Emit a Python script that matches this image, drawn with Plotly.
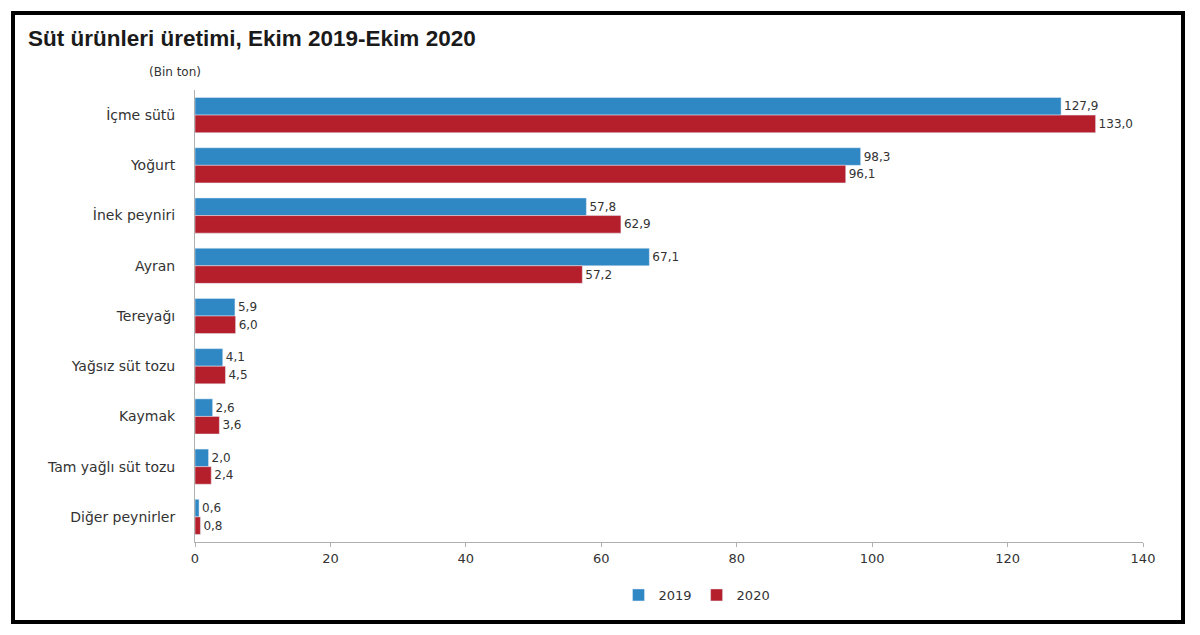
import plotly.graph_objects as go

categories = ["İçme sütü", "Yoğurt", "İnek peyniri", "Ayran", "Tereyağı",
              "Yağsız süt tozu", "Kaymak", "Tam yağlı süt tozu", "Diğer peynirler"]
values_2019 = [127.9, 98.3, 57.8, 67.1, 5.9, 4.1, 2.6, 2.0, 0.6]
values_2020 = [133.0, 96.1, 62.9, 57.2, 6.0, 4.5, 3.6, 2.4, 0.8]
x_ticks = [0, 20, 40, 60, 80, 100, 120, 140]

FONT = "DejaVu Sans, Liberation Sans, sans-serif"
TFONT = "Liberation Sans, Arial, sans-serif"
BLUE = "#2f87c4"
RED = "#b51f2b"

fig = go.Figure()
fig.add_trace(go.Bar(
    y=categories, x=values_2019, name="2019", orientation="h",
    marker=dict(color=BLUE), texttemplate="%{x:.1f}", textposition="outside",
    textfont=dict(size=12, color="#333333", family=FONT), cliponaxis=False,
))
fig.add_trace(go.Bar(
    y=categories, x=values_2020, name="2020", orientation="h",
    marker=dict(color=RED), texttemplate="%{x:.1f}", textposition="outside",
    textfont=dict(size=12, color="#333333", family=FONT), cliponaxis=False,
))

L, R, T, B = 195, 57, 90, 93
W, H = 1200, 635
pw, ph = W - L - R, H - T - B

def px_x(p):
    return (p - L) / pw

def px_y(p):
    return (H - B - p) / ph

fig.update_layout(
    width=W, height=H,
    margin=dict(l=L, r=R, t=T, b=B),
    paper_bgcolor="white", plot_bgcolor="white",
    barmode="group", bargap=0.3, bargroupgap=0,
    separators=",.",
    font=dict(family=FONT, size=13, color="#333333"),
    title=dict(text="<b>Süt ürünleri üretimi, Ekim 2019-Ekim 2020</b>",
               x=28 / W, xanchor="left", y=1 - 38 / H, yanchor="middle",
               xref="container", yref="container",
               font=dict(size=22.5, color="#1a1a1a", family=TFONT)),
    xaxis=dict(range=[0, 140], tickvals=x_ticks, showgrid=False, zeroline=False,
               showline=True, linecolor="#b0b0b0", linewidth=1,
               ticks="outside", ticklen=4, tickcolor="#b0b0b0",
               tickfont=dict(size=13, color="#333333")),
    yaxis=dict(autorange="reversed", showgrid=False, showline=True,
               linecolor="#b0b0b0", linewidth=1, ticks="", ticklabelstandoff=16,
               tickfont=dict(size=14, color="#333333")),
    legend=dict(orientation="h", x=px_x(697), xanchor="center",
                y=px_y(595), yanchor="middle",
                font=dict(size=13, color="#333333"), itemwidth=30),
    showlegend=True,
)

fig.add_annotation(text="(Bin ton)", xref="paper", yref="paper",
                   x=px_x(175), y=px_y(72), showarrow=False,
                   xanchor="center", yanchor="middle",
                   font=dict(size=12, color="#333333", family=FONT))

fig.add_shape(type="rect", xref="paper", yref="paper",
              x0=px_x(13), x1=px_x(1183), y0=px_y(13), y1=px_y(622),
              line=dict(color="black", width=4), fillcolor="rgba(0,0,0,0)",
              layer="above")

fig.write_html("out.html")
